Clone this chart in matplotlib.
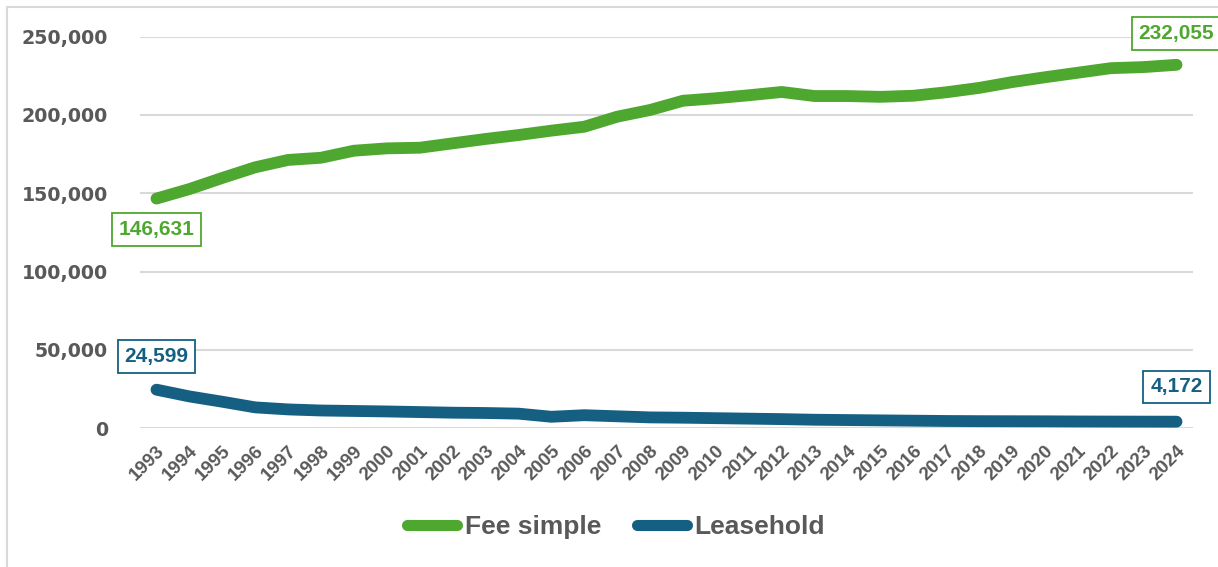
import matplotlib
matplotlib.use("Agg")
import matplotlib.pyplot as plt
from matplotlib.ticker import FuncFormatter
from matplotlib.patches import Rectangle

years = [str(y) for y in range(1993, 2025)]
fee_simple = [146631, 152700, 159800, 166600, 171300, 172700, 177200, 178700,
              179100, 181900, 184700, 187200, 190000, 192500, 198900, 203200,
              209100, 210700, 212600, 214700, 212100, 212100, 211600, 212300,
              214500, 217300, 221000, 224100, 227000, 229900, 230600, 232055]
leasehold = [24599, 20300, 16900, 13300, 12000, 11300, 11000, 10700,
             10300, 9900, 9700, 9300, 7300, 8300, 7600, 6900,
             6700, 6400, 6100, 5800, 5400, 5200, 5000, 4800,
             4600, 4500, 4450, 4400, 4300, 4250, 4200, 4172]

green = "#4EA72E"
blue = "#156082"
grey = "#595959"

fig = plt.figure(figsize=(12.18, 5.67), dpi=100)
ax = fig.add_axes([140/1218, 1-428.2/567, (1193-140)/1218, (428.2-36.7)/567])

x = list(range(len(years)))
ax.plot(x, fee_simple, color=green, lw=8.5, solid_capstyle="round",
        solid_joinstyle="round", label="Fee simple", zorder=3)
ax.plot(x, leasehold, color=blue, lw=8.5, solid_capstyle="round",
        solid_joinstyle="round", label="Leasehold", zorder=3)

ax.set_xlim(-0.5, len(years) - 0.5)
ax.set_ylim(0, 250000)
ax.set_yticks(range(0, 250001, 50000))
ax.yaxis.set_major_formatter(FuncFormatter(lambda v, p: f"{int(v):,}"))
ax.grid(axis="y", color="#D9D9D9", lw=1.5, zorder=0)
for s in ax.spines.values():
    s.set_visible(False)
ax.tick_params(axis="both", length=0)
ax.tick_params(axis="y", pad=23, labelsize=13.7, labelcolor=grey)
for t in ax.get_yticklabels():
    t.set_fontweight("bold")
    t.set_family("DejaVu Sans")

ax.set_xticks(x)
ax.set_xticklabels(years, rotation=45, ha="right", rotation_mode="anchor",
                   fontsize=13.5, fontweight="bold", color=grey,
                   family="Liberation Sans")
ax.tick_params(axis="x", pad=10)

# value boxes at the first and last year of each series
def tag(i, v, color, dy):
    ax.annotate(f"{v:,}", xy=(i, v), xytext=(0, dy), textcoords="offset points",
                ha="center", va="center", fontsize=15, fontweight="bold",
                color=color, family="Liberation Sans", zorder=5,
                bbox=dict(boxstyle="square,pad=0.33", fc="white", ec=color, lw=1.3))

tag(0, fee_simple[0], green, -22.5)
tag(len(years) - 1, fee_simple[-1], green, 22.5)
tag(0, leasehold[0], blue, 24)
tag(len(years) - 1, leasehold[-1], blue, 25)

leg = fig.legend(loc="center", bbox_to_anchor=(0.5057, 1-527/567), ncol=2,
                 frameon=False, handlelength=1.9, handletextpad=0.28,
                 columnspacing=1.36,
                 prop={"family": "Liberation Sans", "weight": "bold", "size": 19})
for t in leg.get_texts():
    t.set_color(grey)
for h in leg.get_lines():
    h.set_linewidth(8)
    h.set_solid_capstyle("round")

# chart area outline
fig.patches.append(Rectangle((7/1218, -0.1), 1.2, 1.1 - 7/567,
                             transform=fig.transFigure, fill=False,
                             ec="#D9D9D9", lw=1.5, zorder=0))

fig.savefig("out.png", dpi=100)
